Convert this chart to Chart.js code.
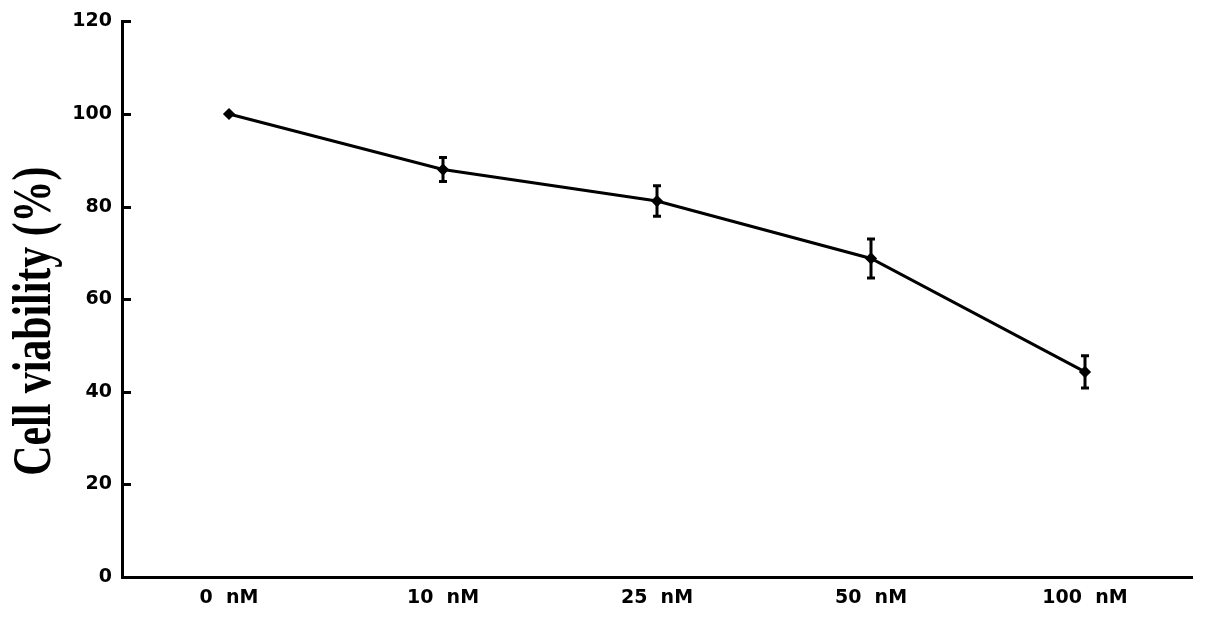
<!DOCTYPE html>
<html>
<head>
<meta charset="utf-8">
<script src="https://cdn.jsdelivr.net/npm/chart.js@4/dist/chart.umd.min.js"></script>
<style>
html,body{margin:0;padding:0;background:#fff;}
#wrap{width:1205px;height:618px;position:relative;}
</style>
</head>
<body>
<div id="wrap"><canvas id="c" width="1205" height="618"></canvas></div>
<script>
const categories = ["0  nM", "10  nM", "25  nM", "50  nM", "100  nM"];
const viability = [100, 88.0, 81.2, 68.8, 44.3];
const errors = [0, 2.6, 3.3, 4.2, 3.5];
const yTicks = [0, 20, 40, 60, 80, 100, 120];
const yTitle = 'Cell viability (%)';

const errorBars = {
  id: 'errorBars',
  afterDatasetsDraw(chart) {
    const ctx = chart.ctx;
    const meta = chart.getDatasetMeta(0);
    const ys = chart.scales.y;
    ctx.save();
    ctx.strokeStyle = '#000';
    ctx.lineWidth = 3;
    meta.data.forEach((pt, i) => {
      const e = errors[i];
      if (!e) return;
      const top = ys.getPixelForValue(viability[i] + e);
      const bot = ys.getPixelForValue(viability[i] - e);
      ctx.beginPath();
      ctx.moveTo(pt.x, top); ctx.lineTo(pt.x, bot);
      ctx.moveTo(pt.x - 4, top); ctx.lineTo(pt.x + 4, top);
      ctx.moveTo(pt.x - 4, bot); ctx.lineTo(pt.x + 4, bot);
      ctx.stroke();
    });
    ctx.restore();
  }
};

// inward tick marks and condensed serif axis title
const axisDecor = {
  id: 'axisDecor',
  afterDraw(chart) {
    const ctx = chart.ctx;
    const ys = chart.scales.y;
    const left = chart.chartArea.left;
    ctx.save();
    ctx.strokeStyle = '#000';
    ctx.lineWidth = 3;
    ys.ticks.forEach(t => {
      const py = Math.round(ys.getPixelForValue(t.value)) + 0.5;
      ctx.beginPath();
      ctx.moveTo(left, py); ctx.lineTo(left + 9, py);
      ctx.stroke();
    });
    const cy = (chart.chartArea.top + chart.chartArea.bottom) / 2 + 22;
    ctx.translate(50, cy);
    ctx.rotate(-Math.PI / 2);
    ctx.scale(0.775, 1);
    ctx.fillStyle = '#000';
    ctx.font = 'bold 54px "Liberation Serif"';
    ctx.textAlign = 'center';
    ctx.textBaseline = 'alphabetic';
    ctx.fillText(yTitle, 0, 0);
    ctx.restore();
  }
};

new Chart(document.getElementById('c'), {
  type: 'line',
  data: {
    labels: categories,
    datasets: [{
      data: viability,
      borderColor: '#000',
      backgroundColor: '#000',
      borderWidth: 3,
      tension: 0,
      pointStyle: 'rectRot',
      pointRadius: 4,
      pointHoverRadius: 4
    }]
  },
  options: {
    responsive: false,
    animation: false,
    devicePixelRatio: 1,
    layout: { padding: { top: 21, right: 13, left: 0, bottom: 0 } },
    plugins: { legend: { display: false }, tooltip: { enabled: false } },
    scales: {
      x: {
        offset: true,
        grid: { display: false, drawTicks: false },
        border: { display: true, color: '#000', width: 3 },
        ticks: { color: '#000', padding: 10, font: { family: 'DejaVu Sans', weight: 'bold', size: 19 } },
        afterFit(s) { s.height = 41; }
      },
      y: {
        min: 0, max: 120,
        afterBuildTicks(s) { s.ticks = yTicks.map(v => ({ value: v })); },
        grid: { display: false, drawTicks: false },
        border: { display: true, color: '#000', width: 3 },
        ticks: { color: '#000', padding: 10, font: { family: 'DejaVu Sans', weight: 'bold', size: 19 } },
        afterFit(s) { s.width = 122; }
      }
    }
  },
  plugins: [errorBars, axisDecor]
});
</script>
</body>
</html>
